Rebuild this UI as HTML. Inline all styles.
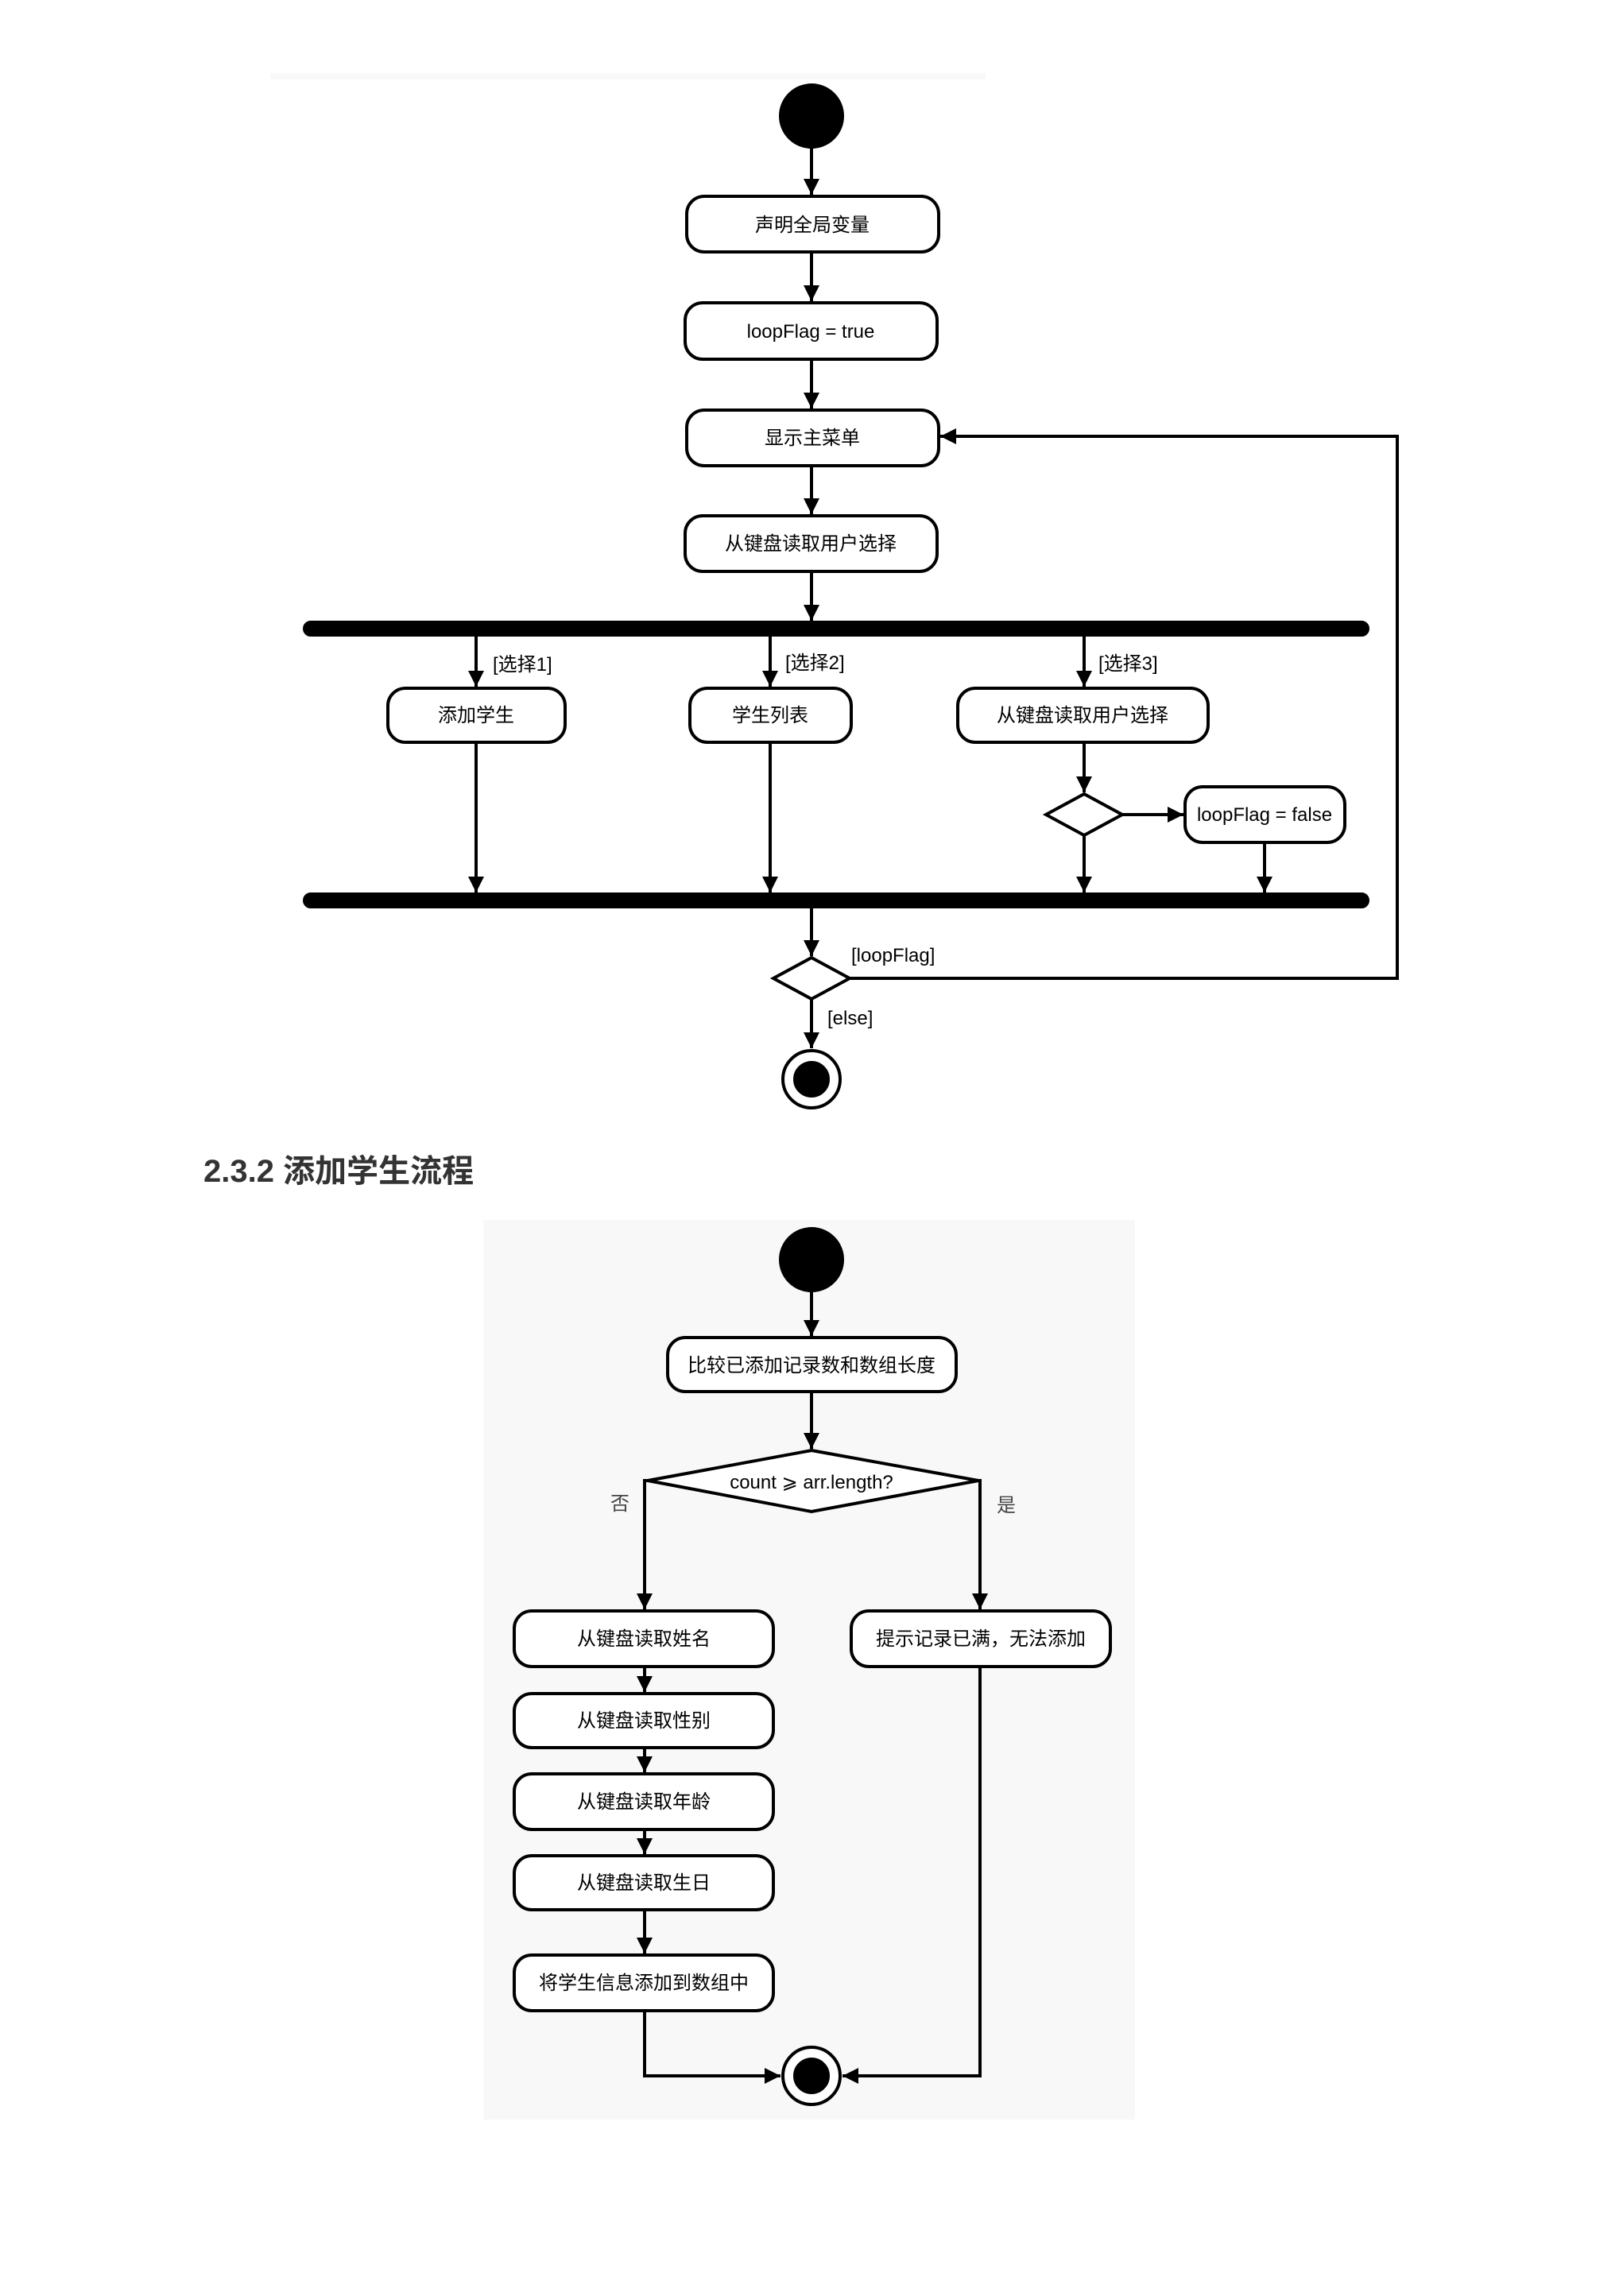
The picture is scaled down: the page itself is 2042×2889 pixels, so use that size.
<!DOCTYPE html>
<html><head><meta charset="utf-8"><style>
html,body{margin:0;padding:0;background:#fff;width:2042px;height:2889px;overflow:hidden;}
svg{display:block;}
text{font-family:"Liberation Sans","Noto Sans CJK SC",sans-serif;}
</style></head><body>
<svg width="2042" height="2889" viewBox="0 0 2042 2889" xmlns="http://www.w3.org/2000/svg">
<defs>
<marker id="a" markerUnits="userSpaceOnUse" markerWidth="22" markerHeight="22" refX="20" refY="10" orient="auto">
<path d="M0,0 L20,10 L0,20 Z" fill="#000"/>
</marker>
</defs>
<rect width="2042" height="2889" fill="#fff"/>
<rect x="340" y="92" width="900" height="8" fill="#f8f8f8"/>
<rect x="608" y="1535" width="820" height="1132" fill="#f8f8f8"/>

<g stroke="#000" stroke-width="4" fill="none">
<circle cx="1021" cy="146" r="39" fill="#000"/>
<line x1="1021" y1="185" x2="1021" y2="245" marker-end="url(#a)"/>
<rect x="864" y="247" width="317" height="70" rx="22" fill="#fff"/>
<line x1="1021" y1="317" x2="1021" y2="379" marker-end="url(#a)"/>
<rect x="862" y="381" width="317" height="71" rx="22" fill="#fff"/>
<line x1="1021" y1="452" x2="1021" y2="514" marker-end="url(#a)"/>
<rect x="864" y="516" width="317" height="70" rx="22" fill="#fff"/>
<line x1="1021" y1="586" x2="1021" y2="647" marker-end="url(#a)"/>
<rect x="862" y="649" width="317" height="70" rx="22" fill="#fff"/>
<line x1="1021" y1="719" x2="1021" y2="781" marker-end="url(#a)"/>
<rect x="383" y="783" width="1338" height="16" rx="8" fill="#000"/>
<line x1="599" y1="799" x2="599" y2="864" marker-end="url(#a)"/>
<line x1="969" y1="799" x2="969" y2="864" marker-end="url(#a)"/>
<line x1="1364" y1="799" x2="1364" y2="864" marker-end="url(#a)"/>
<rect x="488" y="866" width="223" height="68" rx="22" fill="#fff"/>
<rect x="868" y="866" width="203" height="68" rx="22" fill="#fff"/>
<rect x="1205" y="866" width="315" height="68" rx="22" fill="#fff"/>
<line x1="599" y1="934" x2="599" y2="1123" marker-end="url(#a)"/>
<line x1="969" y1="934" x2="969" y2="1123" marker-end="url(#a)"/>
<line x1="1364" y1="934" x2="1364" y2="997" marker-end="url(#a)"/>
<path d="M1364,999 L1412,1025 L1364,1051 L1316,1025 Z" fill="#fff"/>
<line x1="1412" y1="1025" x2="1489" y2="1025" marker-end="url(#a)"/>
<rect x="1491" y="990" width="201" height="70" rx="22" fill="#fff"/>
<line x1="1364" y1="1051" x2="1364" y2="1123" marker-end="url(#a)"/>
<line x1="1591" y1="1060" x2="1591" y2="1123" marker-end="url(#a)"/>
<rect x="383" y="1125" width="1338" height="16" rx="8" fill="#000"/>
<line x1="1021" y1="1141" x2="1021" y2="1203" marker-end="url(#a)"/>
<path d="M1021,1205 L1069,1231 L1021,1257 L973,1231 Z" fill="#fff"/>
<polyline points="1069,1231 1758,1231 1758,549 1183,549" marker-end="url(#a)"/>
<line x1="1021" y1="1257" x2="1021" y2="1319" marker-end="url(#a)"/>
<circle cx="1021" cy="1358" r="36" fill="#fff"/>
<circle cx="1021" cy="1358" r="21" fill="#000"/>

<circle cx="1021" cy="1585" r="39" fill="#000"/>
<line x1="1021" y1="1624" x2="1021" y2="1681" marker-end="url(#a)"/>
<rect x="840" y="1683" width="363" height="68" rx="22" fill="#fff"/>
<line x1="1021" y1="1751" x2="1021" y2="1823" marker-end="url(#a)"/>
<path d="M1021,1825 L1231,1863 L1021,1902 L815,1863 Z" fill="#fff"/>
<polyline points="815,1863 811,1863 811,2025" marker-end="url(#a)"/>
<polyline points="1231,1863 1233,1863 1233,2025" marker-end="url(#a)"/>
<rect x="647" y="2027" width="326" height="70" rx="22" fill="#fff"/>
<rect x="1071" y="2027" width="326" height="70" rx="22" fill="#fff"/>
<line x1="811" y1="2097" x2="811" y2="2129" marker-end="url(#a)"/>
<rect x="647" y="2131" width="326" height="68" rx="22" fill="#fff"/>
<line x1="811" y1="2199" x2="811" y2="2230" marker-end="url(#a)"/>
<rect x="647" y="2232" width="326" height="70" rx="22" fill="#fff"/>
<line x1="811" y1="2302" x2="811" y2="2333" marker-end="url(#a)"/>
<rect x="647" y="2335" width="326" height="68" rx="22" fill="#fff"/>
<line x1="811" y1="2403" x2="811" y2="2458" marker-end="url(#a)"/>
<rect x="647" y="2460" width="326" height="70" rx="22" fill="#fff"/>
<polyline points="811,2530 811,2612 982,2612" marker-end="url(#a)"/>
<polyline points="1233,2097 1233,2612 1060,2612" marker-end="url(#a)"/>
<circle cx="1021" cy="2612" r="36" fill="#fff"/>
<circle cx="1021" cy="2612" r="21" fill="#000"/>
</g>

<g font-size="24" fill="#000" text-anchor="middle">
<text x="1022" y="291">声明全局变量</text>
<text x="1020" y="425">loopFlag = true</text>
<text x="1022" y="559">显示主菜单</text>
<text x="1020" y="692">从键盘读取用户选择</text>
<text x="599" y="908">添加学生</text>
<text x="969" y="908">学生列表</text>
<text x="1362" y="908">从键盘读取用户选择</text>
<text x="1591" y="1033">loopFlag = false</text>
<text x="1021" y="1726">比较已添加记录数和数组长度</text>
<text x="1021" y="1873">count ⩾ arr.length?</text>
<text x="810" y="2070">从键盘读取姓名</text>
<text x="1234" y="2070">提示记录已满，无法添加</text>
<text x="810" y="2173">从键盘读取性别</text>
<text x="810" y="2275">从键盘读取年龄</text>
<text x="810" y="2377">从键盘读取生日</text>
<text x="810" y="2503">将学生信息添加到数组中</text>
</g>
<g font-size="24" fill="#000">
<text x="620" y="844">[选择1]</text>
<text x="988" y="842">[选择2]</text>
<text x="1382" y="843">[选择3]</text>
<text x="1071" y="1210">[loopFlag]</text>
<text x="1041" y="1289">[else]</text>
<text x="768" y="1900" fill="#444">否</text>
<text x="1254" y="1902" fill="#444">是</text>
</g>
<text x="256" y="1487" font-size="40" font-weight="bold" fill="#333">2.3.2 添加学生流程</text>
</svg>
</body></html>
